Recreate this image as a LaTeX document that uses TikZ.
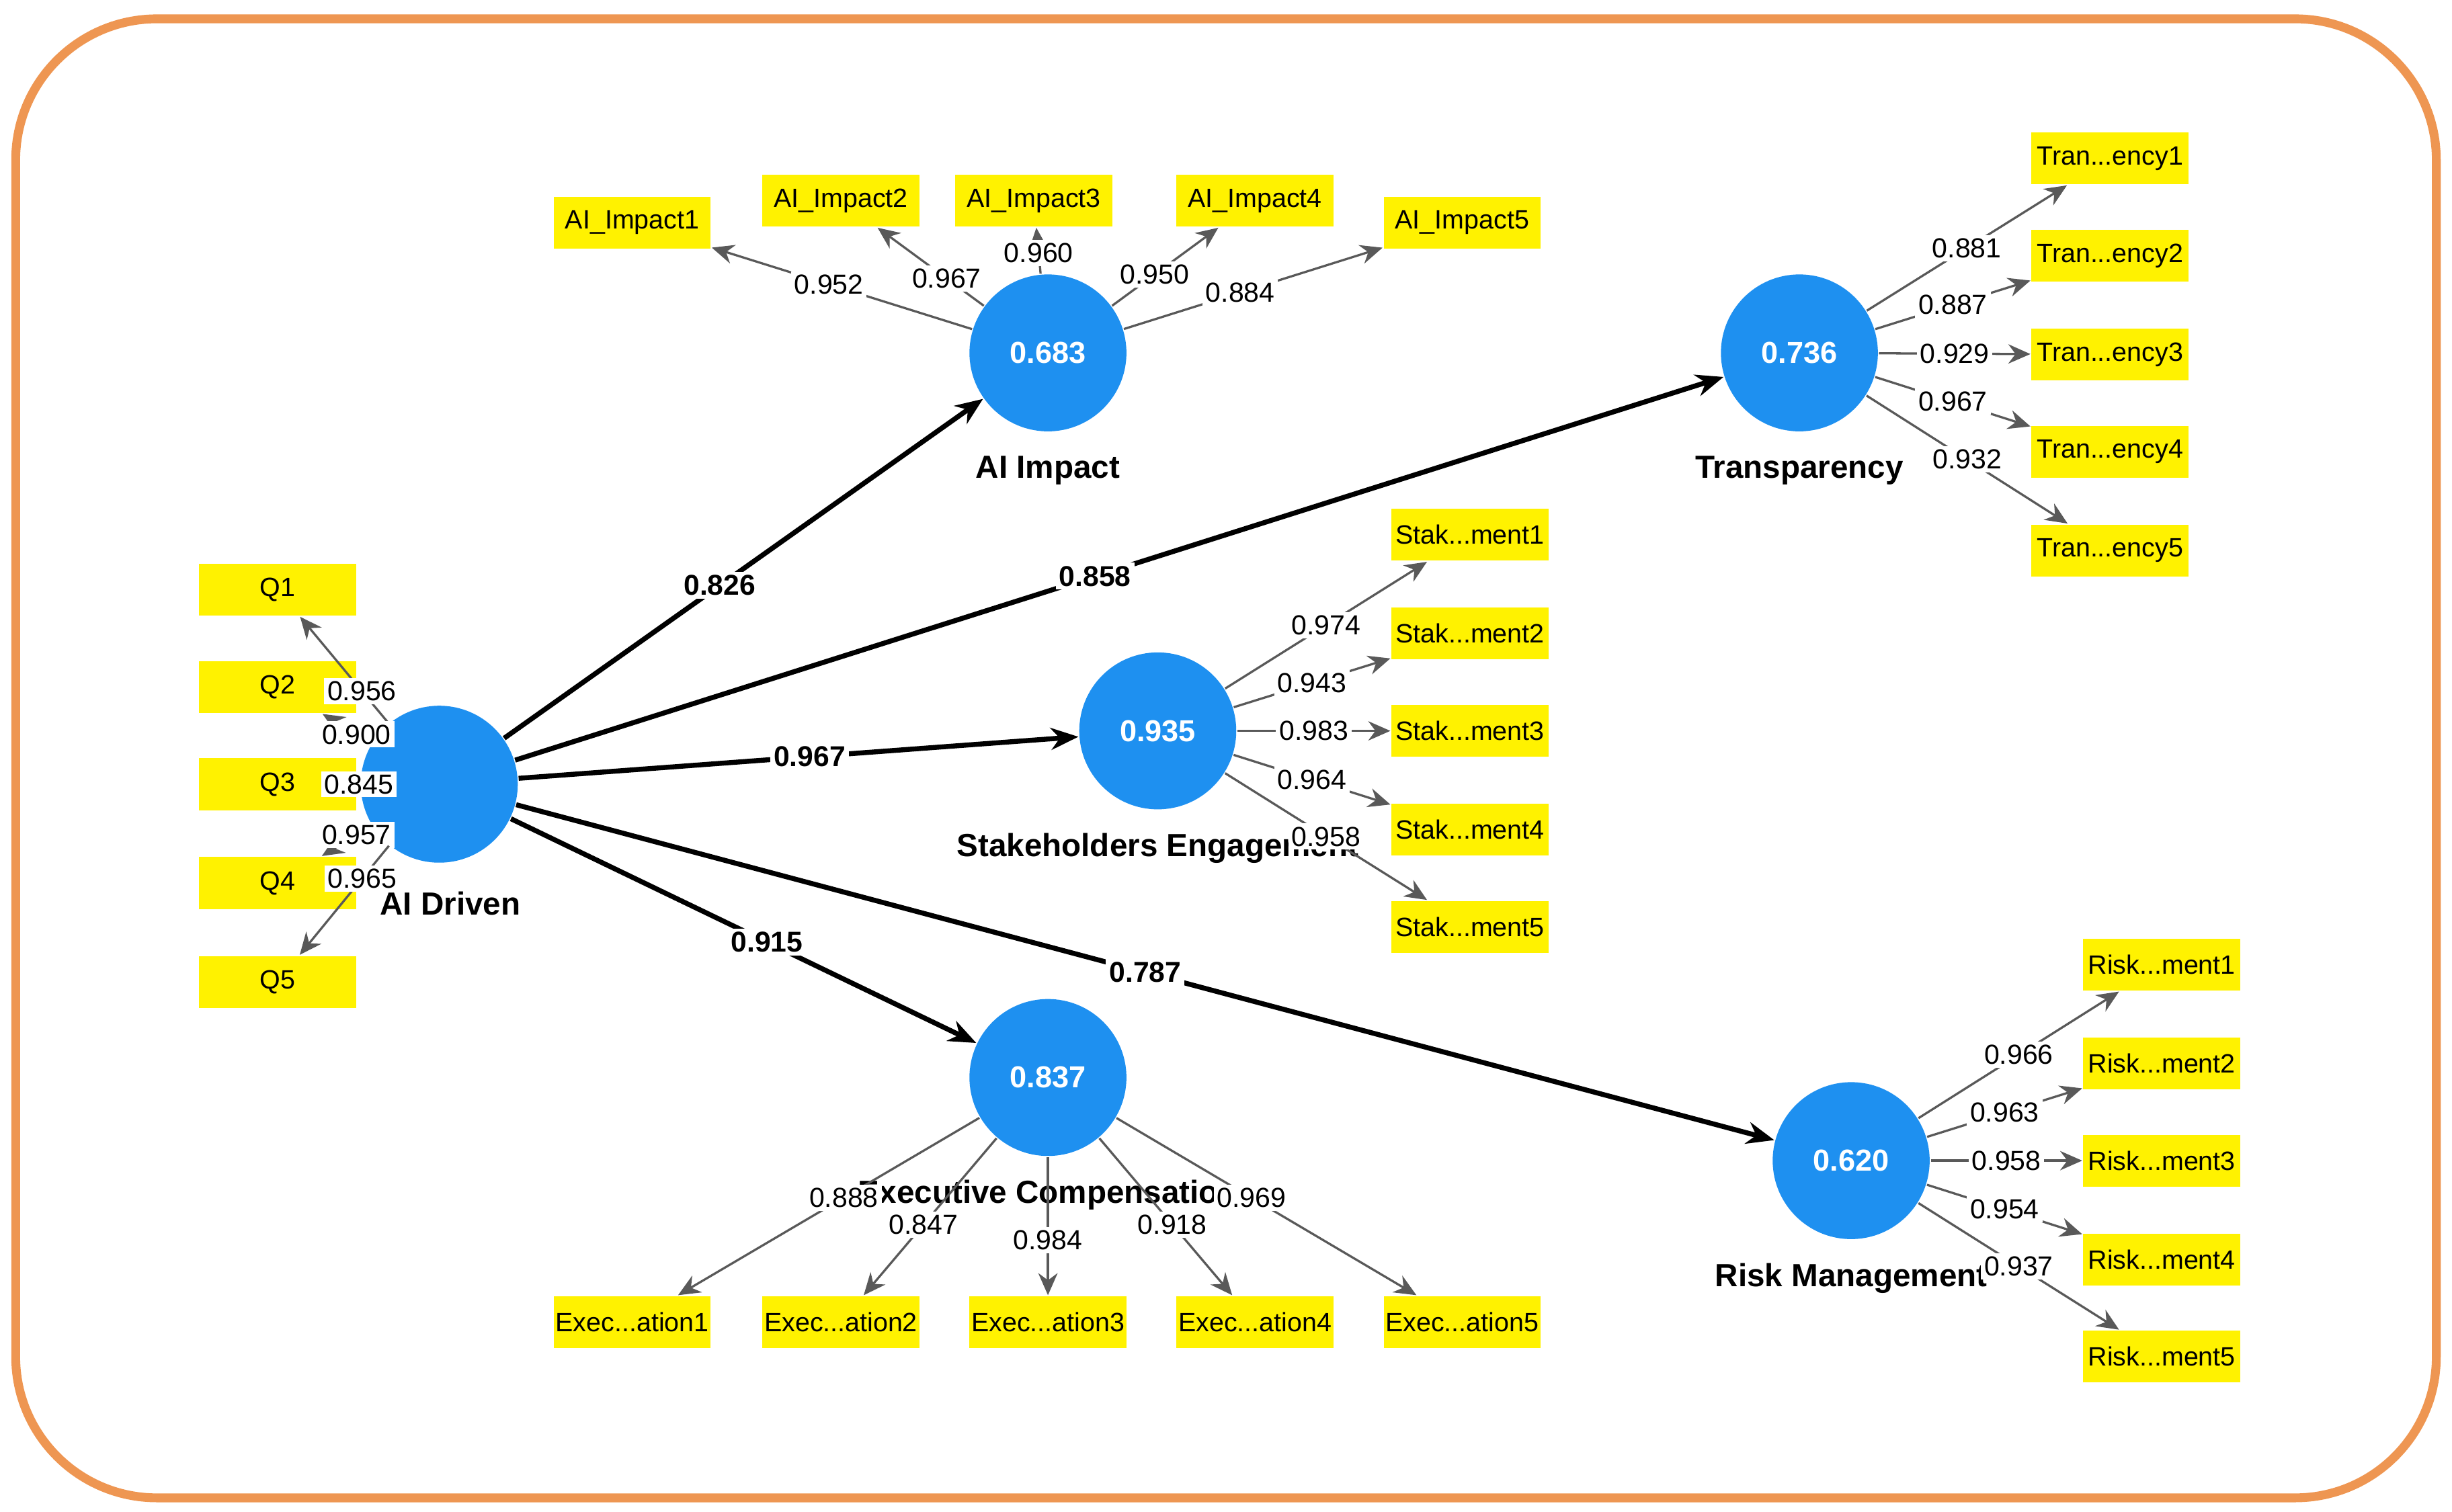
\documentclass[tikz,border=0pt]{standalone}
\usepackage{fontspec}
\setmainfont{Liberation Sans}
\usetikzlibrary{arrows.meta}
\definecolor{frame}{RGB}{238,150,82}
\definecolor{lv}{RGB}{30,144,240}
\definecolor{ind}{RGB}{255,242,0}
\begin{document}
\begin{tikzpicture}[x=0.01cm,y=-0.01cm,
  lv/.style={circle,fill=lv,minimum size=1cm,inner sep=0pt,text=white,font=\fontsize{5.5}{6}\selectfont\bfseries},
  box/.style={rectangle,fill=ind,minimum width=1cm,minimum height=0.33cm,inner sep=0pt,font=\fontsize{4.8}{6}\selectfont},
  lvname/.style={font=\fontsize{5.8}{7}\selectfont\bfseries},
  path/.style={-{Stealth[length=5pt,width=4pt]},line width=0.9pt},
  load/.style={-{Stealth[length=4pt,width=3.5pt]},draw=gray!70!black,line width=0.4pt},
  lab/.style={fill=white,inner sep=0.6pt,font=\fontsize{5}{6}\selectfont},
  plab/.style={fill=white,inner sep=0.6pt,font=\fontsize{5.2}{6}\selectfont\bfseries}]
\useasboundingbox (0,0) rectangle (1563,964);
\draw[frame,line width=1.6pt,rounded corners=0.9cm] (10,12) rectangle (1553,955);

% constructs
\node[lv] (drv) at (280,500) {};
\node[lv] (imp) at (668,225) {0.683};
\node[lv] (trn) at (1147,225) {0.736};
\node[lv] (stk) at (738,466) {0.935};
\node[lv] (exc) at (668,687) {0.837};
\node[lv] (rsk) at (1180,740) {0.620};
\node[lvname] (ldrv) at (287,576) {AI Driven};
\node[lvname] (limp) at (668,300) {AI Impact};
\node[lvname] (ltrn) at (1147,300) {Transparency};
\node[lvname] (lstk) at (738,541) {Stakeholders Engagement};
\node[lvname] (lexc) at (668,762) {Executive Compensation};
\node[lvname] (lrsk) at (1180,815) {Risk Management};

% indicators
\foreach \i/\y in {1/376,2/438,3/500,4/563,5/626} \node[box] (q\i) at (177,\y) {Q\i};
\node[box] (ai1) at (403,142) {AI\_Impact1};
\node[box] (ai2) at (536,128) {AI\_Impact2};
\node[box] (ai3) at (659,128) {AI\_Impact3};
\node[box] (ai4) at (800,128) {AI\_Impact4};
\node[box] (ai5) at (932,142) {AI\_Impact5};
\foreach \i/\y in {1/101,2/163,3/226,4/288,5/351} \node[box] (tr\i) at (1345,\y) {Tran...ency\i};
\foreach \i/\y in {1/341,2/404,3/466,4/529,5/591} \node[box] (st\i) at (937,\y) {Stak...ment\i};
\foreach \i/\y in {1/615,2/678,3/740,4/803,5/865} \node[box] (rm\i) at (1378,\y) {Risk...ment\i};
\foreach \i/\x in {1/403,2/536,3/668,4/800,5/932} \node[box] (ex\i) at (\x,843) {Exec...ation\i};

% outer loadings
\foreach \i/\v in {1/0.956,2/0.900,3/0.845,4/0.957,5/0.965}
  \draw[load] (drv) -- node[lab,pos=0.3] {\v} (q\i);
\foreach \i/\v/\p in {1/0.952/0.55,2/0.967/0.35,3/0.960/0.45,4/0.950/0.4,5/0.884/0.45}
  \draw[load] (imp) -- node[lab,pos=\p] {\v} (ai\i);
\foreach \i/\v in {1/0.881,2/0.887,3/0.929,4/0.967,5/0.932}
  \draw[load] (trn) -- node[lab,pos=0.5] {\v} (tr\i);
\foreach \i/\v in {1/0.974,2/0.943,3/0.983,4/0.964,5/0.958}
  \draw[load] (stk) -- node[lab,pos=0.5] {\v} (st\i);
\foreach \i/\v in {1/0.966,2/0.963,3/0.958,4/0.954,5/0.937}
  \draw[load] (rsk) -- node[lab,pos=0.5] {\v} (rm\i);
\foreach \i/\v/\p in {1/0.888/0.45,2/0.847/0.55,3/0.984/0.6,4/0.918/0.55,5/0.969/0.45}
  \draw[load] (exc) -- node[lab,pos=\p] {\v} (ex\i);

% inner model
\draw[path] (drv) -- node[plab,pos=0.45] {0.826} (imp);
\draw[path] (drv) -- node[plab,pos=0.48] {0.858} (trn);
\draw[path] (drv) -- node[plab,pos=0.52] {0.967} (stk);
\draw[path] (drv) -- node[plab,pos=0.55] {0.915} (exc);
\draw[path] (drv) -- node[plab,pos=0.5] {0.787} (rsk);
\end{tikzpicture}
\end{document}
